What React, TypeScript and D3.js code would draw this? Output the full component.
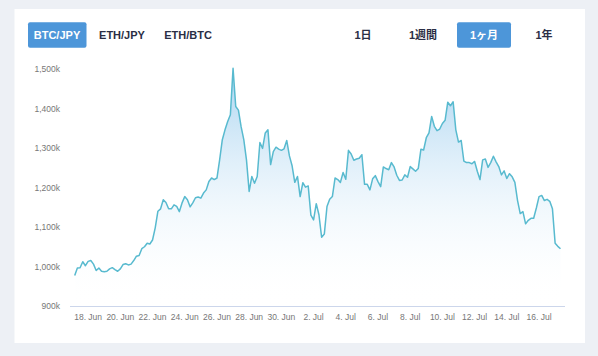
import React from "react";
import * as d3 from "d3";

// ---- data ----
const startTimeUtc = Date.UTC(2019, 5, 17, 4); // first sample
const stepHours = 4;
const prices = [
  977, 996, 997, 1012, 1002, 1013, 1015, 1006, 990, 996,
  988, 987, 988, 994, 997, 992, 988, 994, 1005, 1007,
  1004, 1006, 1015, 1026, 1028, 1045, 1050, 1059, 1057, 1067,
  1098, 1140, 1146, 1169, 1162, 1146, 1146, 1156, 1152, 1139,
  1161, 1177, 1169, 1151, 1161, 1174, 1176, 1173, 1186, 1194,
  1215, 1224, 1220, 1224, 1270, 1321, 1346, 1367, 1384, 1502,
  1405, 1396, 1354, 1321, 1270, 1190, 1228, 1211, 1228, 1314,
  1299, 1338, 1346, 1258, 1291, 1302, 1297, 1294, 1298, 1319,
  1280, 1255, 1213, 1228, 1177, 1212, 1201, 1204, 1130, 1118,
  1159, 1131, 1074, 1082, 1152, 1170, 1177, 1224, 1220, 1213,
  1238, 1221, 1294, 1285, 1269, 1272, 1274, 1283, 1208, 1208,
  1194, 1222, 1230, 1215, 1202, 1252, 1248, 1245, 1263, 1252,
  1231, 1218, 1219, 1232, 1226, 1253, 1247, 1241, 1248, 1297,
  1295, 1326, 1338, 1380, 1355, 1344, 1348, 1362, 1370, 1416,
  1407, 1417, 1346, 1315, 1319, 1267, 1263, 1263, 1260, 1266,
  1241, 1220, 1270, 1272, 1251, 1263, 1279, 1265, 1253, 1232,
  1242, 1223, 1235, 1227, 1213, 1167, 1134, 1139, 1108, 1117,
  1122, 1122, 1148, 1177, 1180, 1167, 1170, 1165, 1146, 1059,
  1051, 1045,
];
const xTickDates = [
  "2019-06-18", "2019-06-20", "2019-06-22", "2019-06-24", "2019-06-26",
  "2019-06-28", "2019-06-30", "2019-07-02", "2019-07-04", "2019-07-06",
  "2019-07-08", "2019-07-10", "2019-07-12", "2019-07-14", "2019-07-16",
];
const yTicks = [900, 1000, 1100, 1200, 1300, 1400, 1500];
const pairButtons = ["BTC/JPY", "ETH/JPY", "ETH/BTC"];
const activePair = "BTC/JPY";
const rangeButtons = ["1日", "1週間", "1ヶ月", "1年"];
const activeRange = "1ヶ月";

const W = 598;
const H = 356;
const FONT = "'Liberation Sans', Arial, 'Noto Sans CJK JP', sans-serif";

export default function App() {
  const data = prices.map((v, i) => ({
    t: new Date(startTimeUtc + i * stepHours * 3600 * 1000),
    v,
  }));
  const x = d3
    .scaleUtc()
    .domain([data[0].t, data[data.length - 1].t])
    .range([74.7, 560.5]);
  const y = d3.scaleLinear().domain([900, 1500]).range([306, 69]);

  const line = d3
    .line<{ t: Date; v: number }>()
    .x((d) => x(d.t))
    .y((d) => y(d.v));
  const area = d3
    .area<{ t: Date; v: number }>()
    .x((d) => x(d.t))
    .y0(y(900))
    .y1((d) => y(d.v));

  const fmtX = d3.utcFormat("%-d. %b");
  const fmtY = (v: number) => d3.format(",")(v) + "k";

  const pairX = [57, 122, 188];
  const rangeX = [363, 423, 484, 544];

  return (
    <svg
      width={W}
      height={H}
      style={{ position: "absolute", left: 0, top: 0, display: "block" }}
      fontFamily={FONT}
    >
      <defs>
        <linearGradient id="areaGrad" gradientUnits="userSpaceOnUse" x1="0" y1={y(1500)} x2="0" y2={y(900)}>
          <stop offset="0" stopColor="#9ccdee" stopOpacity={0.85} />
          <stop offset="1" stopColor="#ffffff" stopOpacity={0} />
        </linearGradient>
      </defs>
      <rect x={0} y={0} width={W} height={H} fill="#edf0f5" />
      <rect x={14.5} y={9} width={570.5} height={334} fill="#ffffff" />

      {pairButtons.map((p, i) => {
        const active = p === activePair;
        return (
          <g key={p}>
            {active && <rect x={pairX[i] - 29} y={22.3} width={58.5} height={25.5} rx={2} fill="#4d96d9" />}
            <text
              x={pairX[i]}
              y={35}
              textAnchor="middle"
              dominantBaseline="central"
              fontSize={11}
              fontWeight="bold"
              fill={active ? "#ffffff" : "#2a2e45"}
            >
              {p}
            </text>
          </g>
        );
      })}

      {rangeButtons.map((p, i) => {
        const active = p === activeRange;
        return (
          <g key={p}>
            {active && <rect x={rangeX[i] - 27} y={22.3} width={54} height={25.5} rx={2} fill="#4d96d9" />}
            <text
              x={rangeX[i]}
              y={35}
              textAnchor="middle"
              dominantBaseline="central"
              fontSize={11}
              fontWeight="bold"
              fill={active ? "#ffffff" : "#2a2e45"}
            >
              {p}
            </text>
          </g>
        );
      })}

      {yTicks.map((t) => (
        <text
          key={t}
          x={60}
          y={y(t)}
          textAnchor="end"
          dominantBaseline="central"
          fontSize={8.5}
          fill="#777777"
        >
          {fmtY(t)}
        </text>
      ))}

      <line x1={70} x2={565} y1={306.5} y2={306.5} stroke="#ccd6eb" strokeWidth={1} />

      {xTickDates.map((s) => {
        const d = new Date(s + "T00:00:00Z");
        return (
          <text
            key={s}
            x={x(d)}
            y={316.5}
            textAnchor="middle"
            dominantBaseline="central"
            fontSize={8.5}
            fill="#777777"
          >
            {fmtX(d)}
          </text>
        );
      })}

      <path d={area(data) || ""} fill="url(#areaGrad)" />
      <path d={line(data) || ""} fill="none" stroke="#58bacf" strokeWidth={1.5} strokeLinejoin="round" />
    </svg>
  );
}
